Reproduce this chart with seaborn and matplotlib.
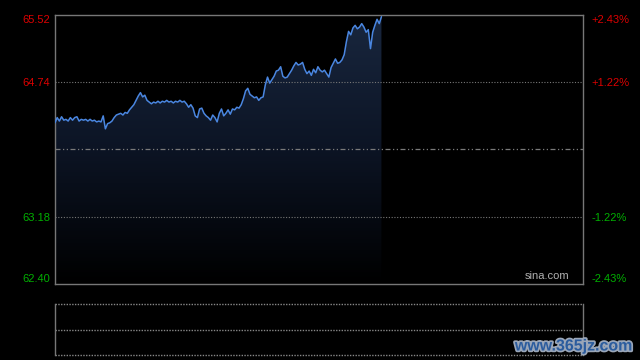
import numpy as np
import pandas as pd
import matplotlib
matplotlib.use("Agg")
import matplotlib.pyplot as plt
import matplotlib.patheffects as pe
from matplotlib.colors import LinearSegmentedColormap
import seaborn as sns

# ---- data ----
prices = [
    64.27, 64.33, 64.29, 64.34, 64.30, 64.31, 64.29, 64.33, 64.30, 64.33,
    64.34, 64.29, 64.31, 64.30, 64.31, 64.29, 64.31, 64.29, 64.30, 64.28,
    64.29, 64.28, 64.35, 64.20, 64.26, 64.27, 64.29, 64.33, 64.36, 64.37,
    64.38, 64.36, 64.39, 64.38, 64.42, 64.45, 64.48, 64.53, 64.58, 64.62,
    64.57, 64.59, 64.53, 64.51, 64.49, 64.51, 64.50, 64.52, 64.50, 64.52,
    64.51, 64.53, 64.51, 64.52, 64.50, 64.52, 64.51, 64.53, 64.51, 64.52,
    64.49, 64.45, 64.48, 64.44, 64.35, 64.33, 64.43, 64.44, 64.38, 64.35,
    64.33, 64.30, 64.36, 64.33, 64.28, 64.38, 64.43, 64.35, 64.38, 64.42,
    64.37, 64.43, 64.42, 64.45, 64.44, 64.48, 64.55, 64.64, 64.67, 64.60,
    64.58, 64.56, 64.57, 64.53, 64.56, 64.57, 64.71, 64.80, 64.73, 64.77,
    64.81, 64.87, 64.88, 64.92, 64.81, 64.79, 64.80, 64.84, 64.88, 64.93,
    64.97, 64.94, 64.95, 64.97, 64.89, 64.84, 64.87, 64.82, 64.89, 64.85,
    64.92, 64.88, 64.86, 64.88, 64.84, 64.80, 64.91, 64.96, 65.01, 64.96,
    64.97, 65.00, 65.06, 65.21, 65.33, 65.29, 65.37, 65.40, 65.36, 65.38,
    65.42, 65.38, 65.32, 65.35, 65.13, 65.32, 65.40, 65.47, 65.42, 65.50,
]
minutes = list(range(len(prices)))
total_minutes = 241
prev_close = 63.96
y_ticks = [62.40, 63.18, 64.74, 65.52]
left_labels = ["62.40", "63.18", "64.74", "65.52"]
right_labels = ["-2.43%", "-1.22%", "+1.22%", "+2.43%"]
label_colors = ["#00b000", "#00b000", "#dd0000", "#dd0000"]
y_min, y_max = 62.40, 65.52

df = pd.DataFrame({"minute": minutes, "price": prices})

sns.set_theme(style="dark")
plt.rcParams["font.family"] = ["Liberation Sans", "DejaVu Sans"]

W, H = 640, 360
fig = plt.figure(figsize=(6.4, 3.6), dpi=100, facecolor="black")

ax = fig.add_axes([55 / W, 1 - 284 / H, 528 / W, 269 / H])
ax.set_facecolor("black")
ax.set_xlim(0, total_minutes)
ax.set_ylim(y_min, y_max)

# gradient fill under the curve
cmap = LinearSegmentedColormap.from_list("g", ["#000000", "#0c1424", "#19273f"])
grad = np.linspace(0, 1, 256).reshape(-1, 1)
im = ax.imshow(grad, aspect="auto", cmap=cmap, origin="lower",
               extent=[0, minutes[-1], y_min, y_max], zorder=1)
poly = ax.fill_between(df["minute"], df["price"], y_min, color="none", lw=0)
im.set_clip_path(poly.get_paths()[0], transform=ax.transData)

# gridlines
for yv in [63.18, 64.74]:
    ax.axhline(yv, color="#777777", lw=0.8, ls=(0, (1, 1.5)), zorder=2)
ax.axhline(prev_close, color="#7a7a7a", lw=0.9, ls=(0, (4, 2, 1, 2, 1, 2)), zorder=3)

sns.lineplot(data=df, x="minute", y="price", ax=ax, color="#4a86e0", lw=1.1, zorder=4)

ax.set_xlabel("")
ax.set_ylabel("")
ax.set_xticks([])
ax.set_yticks(y_ticks)
ax.set_yticklabels(left_labels, fontsize=8)
ax.tick_params(axis="y", length=0, pad=3.5)
for lbl, c in zip(ax.get_yticklabels(), label_colors):
    lbl.set_color(c)
tl = ax.get_yticklabels()
tl[0].set_va("bottom")
tl[-1].set_va("top")
for s in ax.spines.values():
    s.set_visible(True)
    s.set_color("#777777")
    s.set_linewidth(1)
ax.grid(False)

ax2 = ax.twinx()
ax2.set_ylim(y_min, y_max)
ax2.set_yticks(y_ticks)
ax2.set_yticklabels(right_labels, fontsize=8)
ax2.tick_params(axis="y", length=0, pad=6)
for lbl, c in zip(ax2.get_yticklabels(), label_colors):
    lbl.set_color(c)
tr = ax2.get_yticklabels()
tr[0].set_va("bottom")
tr[-1].set_va("top")
for s in ax2.spines.values():
    s.set_visible(False)
ax2.grid(False)

ax.text(0.975, 0.012, "sina.com", transform=ax.transAxes, ha="right", va="bottom",
        color="#b0b0b0", fontsize=8, zorder=6)

# lower panel
bx = fig.add_axes([55 / W, 1 - 355 / H, 528 / W, 51 / H])
bx.set_facecolor("black")
bx.set_xlim(0, total_minutes)
bx.set_ylim(0, 1)
bx.set_xticks([])
bx.set_yticks([])
bx.grid(False)
for k in ["left", "right"]:
    bx.spines[k].set_color("#777777")
    bx.spines[k].set_linewidth(1)
for k in ["top", "bottom"]:
    bx.spines[k].set_visible(False)
for yv in [0.0, 0.5, 1.0]:
    bx.axhline(yv, color="#888888", lw=1, ls=(0, (1, 1)), clip_on=False)

fig.text(574 / W, 1 - 346 / H, "www.365jz.com", ha="center", va="center",
         fontsize=11.5, fontweight="bold", color="#2b5c9e",
         path_effects=[pe.withStroke(linewidth=2.5, foreground="#9aa6b8")])

fig.savefig("out.png", dpi=100, facecolor="black")
